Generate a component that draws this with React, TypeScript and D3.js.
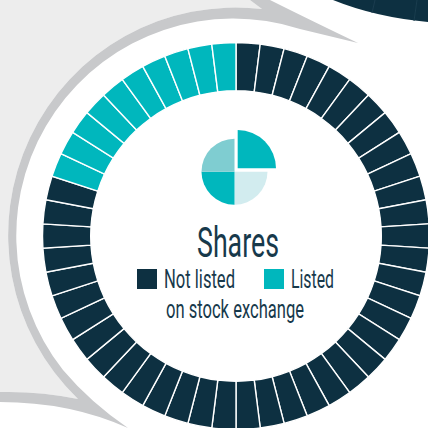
import React from "react";
import * as d3 from "d3";

const width = 428;
const height = 428;
const cx = 236;
const cy = 236;

const categories = ["Not listed", "Listed"];
const segmentCounts = [40, 10];
const iconShares = [25, 25, 25, 25];
const iconColors = ["#00b7bd", "#d2ecef", "#00b7bd", "#7fcdd1"];
const colors = ["#0d3041", "#00b7bd"];
const title = "Shares";
const subtitle = "on stock exchange";

const segments = categories.flatMap((c, i) => d3.range(segmentCounts[i]).map(() => c));
const color = d3.scaleOrdinal<string, string>().domain(categories).range(colors);

const ringPie = d3.pie<string>().value(1).sort(null);
const ringArc = d3.arc<d3.PieArcDatum<string>>().innerRadius(145.3).outerRadius(193.5);
const iconPie = d3.pie<number>().sort(null);

const font = "Roboto, 'Noto Sans', sans-serif";

const App = () => {
  const icon = iconPie(iconShares);
  return (
    <svg width={width} height={height} style={{ position: "absolute", left: 0, top: 0 }}>
      <rect width={width} height={height} fill="#fff" />
      {/* backdrop shapes */}
      <path d="M0,0H250L262,9A227.5,227.5 0 0 0 78,399Q40,391 0,392Z" fill="#ededed" />
      <path d="M0,392Q40,391 78,399A227.5,227.5 0 0 1 262,9L250,0H270Q310,20 358,43L300,29A217,217 0 0 0 63,370Q90,402 128,428Q70,402 0,402Z" fill="#c8c9cb" />
      <path d="M333,0H428V22Q375,17 333,0Z" fill="#0d3041" />
      <path d="M375,0L372,13M417,0L414,21" stroke="#1a3d4e" strokeWidth={1} fill="none" />
      <g transform={`translate(${cx},${cy})`}>
        {ringPie(segments).map((d, i) => (
          <path key={i} d={ringArc(d) ?? ""} fill={color(d.data)} stroke="#fff" strokeWidth={1.4} />
        ))}
      </g>
      <g transform="translate(234.5,171.7)">
        {icon.map((d, i) => (
          <path
            key={i}
            d={d3.arc<d3.PieArcDatum<number>>().innerRadius(0).outerRadius(i === 0 ? 38.3 : 33)(d) ?? ""}
            transform={i === 0 ? "translate(3.2,-3.4)" : undefined}
            fill={iconColors[i]}
          />
        ))}
      </g>
      <g fontFamily={font} fontWeight={400} fill="#17394b" textAnchor="middle">
        <text x={238} y={257} fontSize={43} textLength={82} lengthAdjust="spacingAndGlyphs">{title}</text>
        <rect x={137} y={269} width={20} height={20} fill={colors[0]} />
        <text x={164} y={288} fontSize={25} textAnchor="start" textLength={71} lengthAdjust="spacingAndGlyphs">{categories[0]}</text>
        <rect x={264} y={269} width={20} height={20} fill={colors[1]} />
        <text x={291} y={288} fontSize={25} textAnchor="start" textLength={43} lengthAdjust="spacingAndGlyphs">{categories[1]}</text>
        <text x={235} y={318} fontSize={25} textLength={138} lengthAdjust="spacingAndGlyphs">{subtitle}</text>
      </g>
    </svg>
  );
};

export default App;
